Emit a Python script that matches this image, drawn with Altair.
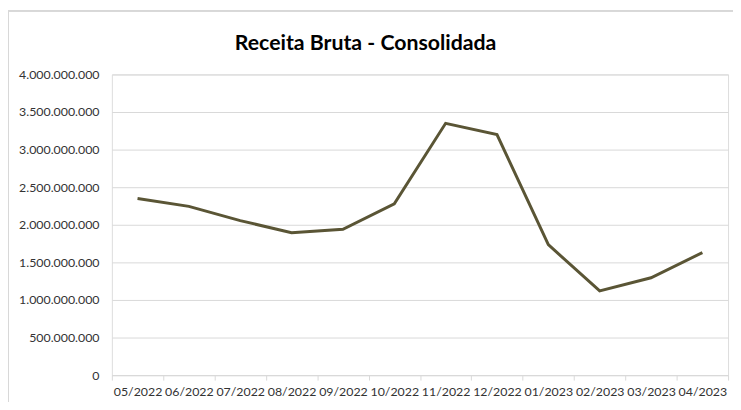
import altair as alt
import pandas as pd

months = ["05/2022", "06/2022", "07/2022", "08/2022", "09/2022", "10/2022",
          "11/2022", "12/2022", "01/2023", "02/2023", "03/2023", "04/2023"]
receita = [2350000000, 2245000000, 2055000000, 1895000000, 1940000000, 2280000000,
           3350000000, 3200000000, 1735000000, 1120000000, 1295000000, 1630000000]
y_ticks = [0, 500000000, 1000000000, 1500000000, 2000000000, 2500000000,
           3000000000, 3500000000, 4000000000]

df = pd.DataFrame({"mes": months, "valor": receita})

W, H = 623, 304
FONT = "Lato"

line = alt.Chart(df).mark_line(color="#5a5535", strokeWidth=3).encode(
    x=alt.X("mes:N", sort=months, title=None,
            scale=alt.Scale(paddingInner=0, paddingOuter=0),
            axis=alt.Axis(labelAngle=0, tickBand="extent", tickSize=5,
                          tickColor="#d9d9d9", domainColor="#d9d9d9",
                          labelFont=FONT, labelFontSize=12.5, labelColor="#333333",
                          labelPadding=6, grid=False)),
    y=alt.Y("valor:Q", title=None,
            scale=alt.Scale(domain=[0, 4000000000], nice=False),
            axis=alt.Axis(values=y_ticks, domain=False, ticks=False,
                          labelExpr="replace(format(datum.value, ',d'), regexp(',', 'g'), '.')",
                          labelFont=FONT, labelFontSize=12.5, labelColor="#333333",
                          labelPadding=13, gridColor="#d9d9d9", gridWidth=1)),
)

border_top = alt.Chart(df).mark_rule(color="#d9d9d9", strokeWidth=1).encode(
    x=alt.value(-105), x2=alt.value(W + 10), y=alt.value(-64.5)
)
border_left = alt.Chart(df).mark_rule(color="#d9d9d9", strokeWidth=1).encode(
    x=alt.value(-104.5), y=alt.value(-65), y2=alt.value(H + 40)
)

chart = alt.layer(border_top, border_left, line).properties(
    width=W, height=H,
    title=alt.TitleParams("Receita Bruta - Consolidada", font=FONT, fontSize=21.5,
                          fontWeight="bold", color="#000000", anchor="middle",
                          dx=-55, offset=-45),
    autosize=alt.AutoSizeParams(type="none"),
    padding={"left": 105, "top": 65, "right": 5, "bottom": 25},
).configure_view(stroke=None).configure(background="white")

chart.save("out.html", embed_options={"renderer": "svg", "actions": False})
